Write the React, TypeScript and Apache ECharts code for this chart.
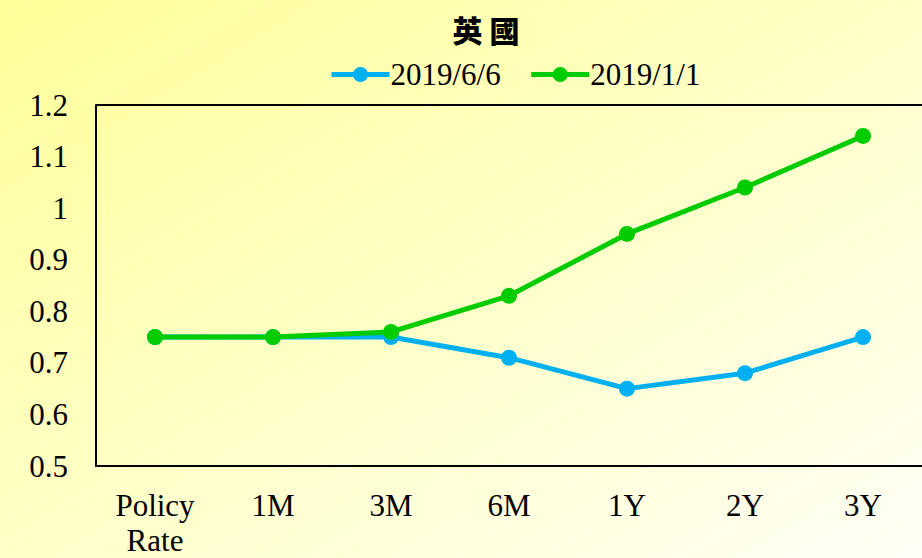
import React, { useEffect, useRef } from "react";
import * as echarts from "echarts";

const categories = ["Policy\nRate", "1M", "3M", "6M", "1Y", "2Y", "3Y"];
const seriesJune = [0.75, 0.75, 0.75, 0.71, 0.65, 0.68, 0.75];
const seriesJan = [0.75, 0.75, 0.76, 0.83, 0.95, 1.04, 1.14];
const seriesNames = ["2019/6/6", "2019/1/1"];
const titleText = "英 國";

export default function App() {
  const ref = useRef<HTMLDivElement>(null);
  useEffect(() => {
    if (!ref.current) return;
    const chart = echarts.init(ref.current, null, { renderer: "svg" });
    const serif = "'Liberation Serif', 'Times New Roman', serif";
    chart.setOption({
      animation: false,
      backgroundColor: {
        type: "linear",
        x: 0,
        y: 0,
        x2: 1,
        y2: 1,
        colorStops: [
          { offset: 0, color: "#FFFF99" },
          { offset: 1, color: "#FFFFF6" },
        ],
      },
      title: {
        text: titleText,
        left: 481,
        top: 9,
        textAlign: "center",
        textStyle: {
          fontFamily: "'Noto Sans CJK TC', serif",
          fontWeight: 900,
          fontSize: 30,
          color: "#000",
        },
      },
      legend: {
        top: 54,
        left: 324,
        itemWidth: 58,
        itemHeight: 19,
        itemGap: 28,
        lineStyle: { width: 5 },
        textStyle: { fontFamily: serif, fontSize: 31, color: "#000", padding: [0, 0, 0, -4] },
        data: seriesNames,
      },
      grid: { left: 96, right: 0, top: 105, bottom: 89, containLabel: false },
      xAxis: {
        type: "category",
        data: categories,
        boundaryGap: true,
        axisLine: { show: true, lineStyle: { color: "#000", width: 2 } },
        axisTick: { show: false },
        axisLabel: {
          fontFamily: serif,
          fontSize: 31,
          color: "#000",
          margin: 22,
          lineHeight: 35,
          interval: 0,
        },
      },
      yAxis: {
        type: "value",
        min: 0.5,
        max: 1.2,
        interval: 0.1,
        axisLine: { show: true, lineStyle: { color: "#000", width: 2 } },
        axisTick: { show: false },
        splitLine: { show: false },
        axisLabel: {
          fontFamily: serif,
          fontSize: 31,
          color: "#000",
          margin: 28,
          formatter: (v: number) => String(Math.round(v * 10) / 10),
        },
      },
      graphic: [
        {
          type: "line",
          shape: { x1: 96, y1: 105, x2: 922, y2: 105 },
          style: { stroke: "#000", lineWidth: 2 },
          z: 10,
        },
      ],
      series: [
        {
          name: seriesNames[0],
          type: "line",
          data: seriesJune,
          symbol: "circle",
          symbolSize: 16,
          lineStyle: { color: "#00B0F0", width: 5 },
          itemStyle: { color: "#00B0F0" },
        },
        {
          name: seriesNames[1],
          type: "line",
          data: seriesJan,
          symbol: "circle",
          symbolSize: 16,
          lineStyle: { color: "#00CC00", width: 5 },
          itemStyle: { color: "#00CC00" },
        },
      ],
    });
    return () => chart.dispose();
  }, []);
  return (
    <div
      ref={ref}
      style={{ position: "fixed", left: 0, top: 0, width: 922, height: 558 }}
    />
  );
}
